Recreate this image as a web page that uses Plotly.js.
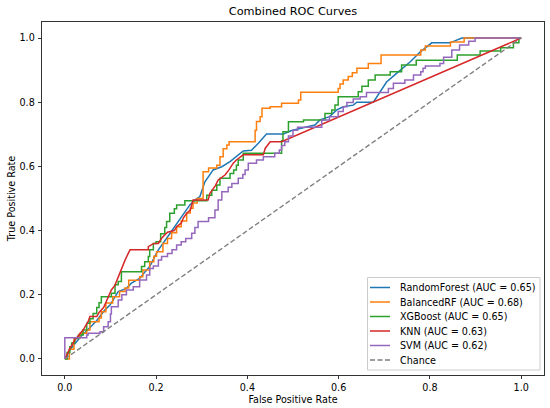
<!DOCTYPE html>
<html>
<head>
<meta charset="utf-8">
<script src="https://cdn.plot.ly/plotly-3.0.1.min.js"></script>
<style>html,body{margin:0;padding:0;background:#fff;}#chart{width:550px;height:408px;}</style>
</head>
<body>
<div id="chart"></div>
<script>
// ---- data ----
const modelNames = ["RandomForest", "BalancedRF", "XGBoost", "KNN", "SVM"];
const aucValues = [0.65, 0.68, 0.65, 0.63, 0.62];
const tickValues = [0, 0.2, 0.4, 0.6, 0.8, 1.0];
const tickLabels = ["0.0", "0.2", "0.4", "0.6", "0.8", "1.0"];

const rfFpr = [0, 0.005, 0.011, 0.02, 0.035, 0.05, 0.07, 0.088, 0.099, 0.117, 0.135, 0.146, 0.164, 0.175, 0.186, 0.197, 0.205, 0.225, 0.24, 0.252, 0.274, 0.285, 0.296, 0.307, 0.325, 0.344, 0.362, 0.391, 0.409, 0.424, 0.442, 0.479, 0.497, 0.52, 0.548, 0.559, 0.58, 0.596, 0.61, 0.632, 0.64, 0.676, 0.691, 0.705, 0.727, 0.757, 0.779, 0.804, 0.844, 0.859, 0.87, 1];
const rfTpr = [0, 0.01, 0.028, 0.045, 0.07, 0.09, 0.12, 0.153, 0.168, 0.21, 0.22, 0.236, 0.251, 0.27, 0.288, 0.319, 0.34, 0.38, 0.41, 0.438, 0.48, 0.495, 0.506, 0.552, 0.589, 0.599, 0.615, 0.648, 0.65, 0.672, 0.701, 0.701, 0.712, 0.72, 0.729, 0.745, 0.755, 0.776, 0.786, 0.791, 0.80, 0.80, 0.832, 0.863, 0.89, 0.926, 0.957, 0.985, 0.985, 0.994, 1, 1];

const brfFpr = [0, 0.01, 0.02, 0.033, 0.048, 0.055, 0.075, 0.08, 0.09, 0.105, 0.12, 0.132, 0.14, 0.164, 0.171, 0.186, 0.195, 0.201, 0.215, 0.225, 0.234, 0.245, 0.255, 0.267, 0.275, 0.281, 0.29, 0.303, 0.315, 0.333, 0.34, 0.347, 0.355, 0.36, 0.417, 0.42, 0.428, 0.432, 0.45, 0.475, 0.512, 0.517, 0.599, 0.603, 0.61, 0.621, 0.63, 0.64, 0.665, 0.693, 0.78, 0.79, 0.845, 0.875, 1];
const brfTpr = [0, 0.03, 0.065, 0.08, 0.09, 0.116, 0.128, 0.147, 0.174, 0.194, 0.21, 0.221, 0.245, 0.256, 0.277, 0.303, 0.32, 0.334, 0.36, 0.375, 0.393, 0.412, 0.43, 0.455, 0.47, 0.486, 0.5, 0.583, 0.595, 0.604, 0.63, 0.655, 0.667, 0.677, 0.713, 0.74, 0.755, 0.781, 0.786, 0.797, 0.807, 0.831, 0.843, 0.857, 0.869, 0.88, 0.892, 0.906, 0.921, 0.947, 0.963, 0.975, 0.988, 1, 1];

const xgbFpr = [0, 0.005, 0.011, 0.015, 0.022, 0.03, 0.04, 0.048, 0.055, 0.062, 0.07, 0.075, 0.08, 0.102, 0.11, 0.117, 0.124, 0.168, 0.175, 0.183, 0.186, 0.194, 0.2, 0.21, 0.219, 0.223, 0.23, 0.24, 0.245, 0.263, 0.311, 0.322, 0.333, 0.34, 0.362, 0.37, 0.376, 0.38, 0.391, 0.475, 0.478, 0.49, 0.523, 0.57, 0.585, 0.592, 0.599, 0.643, 0.651, 0.665, 0.68, 0.713, 0.738, 0.77, 0.86, 0.91, 0.955, 0.983, 0.995, 1];
const xgbTpr = [0, 0.02, 0.038, 0.05, 0.064, 0.075, 0.09, 0.111, 0.125, 0.142, 0.16, 0.175, 0.194, 0.205, 0.231, 0.241, 0.272, 0.288, 0.303, 0.319, 0.34, 0.36, 0.365, 0.39, 0.41, 0.428, 0.454, 0.468, 0.48, 0.493, 0.51, 0.526, 0.542, 0.563, 0.578, 0.589, 0.604, 0.62, 0.641, 0.68, 0.708, 0.739, 0.745, 0.765, 0.776, 0.791, 0.817, 0.833, 0.85, 0.869, 0.885, 0.895, 0.916, 0.931, 0.947, 0.96, 0.97, 0.985, 1, 1];

const knnFpr = [0, 0.01, 0.022, 0.033, 0.04, 0.051, 0.055, 0.07, 0.075, 0.085, 0.091, 0.102, 0.11, 0.117, 0.124, 0.132, 0.139, 0.143, 0.183, 0.183, 0.195, 0.205, 0.212, 0.225, 0.24, 0.245, 0.255, 0.26, 0.267, 0.275, 0.281, 0.314, 0.318, 0.33, 0.336, 0.351, 0.36, 0.369, 0.376, 0.384, 0.391, 0.435, 0.439, 0.45, 0.475, 1];
const knnTpr = [0, 0.03, 0.059, 0.08, 0.09, 0.116, 0.132, 0.132, 0.145, 0.16, 0.179, 0.215, 0.23, 0.256, 0.282, 0.308, 0.329, 0.34, 0.34, 0.35, 0.36, 0.36, 0.376, 0.395, 0.4, 0.412, 0.423, 0.44, 0.454, 0.464, 0.495, 0.495, 0.516, 0.54, 0.558, 0.573, 0.59, 0.61, 0.62, 0.63, 0.636, 0.636, 0.656, 0.677, 0.677, 1];

const svmFpr = [0, 0, 0.048, 0.051, 0.077, 0.085, 0.095, 0.1, 0.102, 0.117, 0.125, 0.135, 0.15, 0.164, 0.179, 0.186, 0.194, 0.205, 0.212, 0.225, 0.235, 0.245, 0.255, 0.265, 0.278, 0.285, 0.292, 0.315, 0.329, 0.336, 0.344, 0.358, 0.366, 0.38, 0.39, 0.395, 0.402, 0.42, 0.435, 0.46, 0.47, 0.475, 0.482, 0.49, 0.5, 0.51, 0.563, 0.58, 0.599, 0.61, 0.618, 0.632, 0.647, 0.661, 0.709, 0.72, 0.745, 0.764, 0.78, 0.785, 0.79, 0.822, 0.83, 0.848, 0.865, 0.885, 0.899, 1];
const svmTpr = [0, 0.066, 0.075, 0.08, 0.085, 0.1, 0.116, 0.14, 0.163, 0.184, 0.2, 0.215, 0.225, 0.246, 0.262, 0.282, 0.29, 0.308, 0.319, 0.329, 0.34, 0.355, 0.365, 0.375, 0.392, 0.41, 0.428, 0.44, 0.464, 0.495, 0.521, 0.535, 0.547, 0.563, 0.575, 0.589, 0.61, 0.62, 0.63, 0.641, 0.651, 0.665, 0.677, 0.695, 0.713, 0.722, 0.745, 0.755, 0.771, 0.786, 0.799, 0.81, 0.817, 0.83, 0.843, 0.859, 0.869, 0.885, 0.895, 0.906, 0.913, 0.921, 0.94, 0.963, 0.978, 0.99, 1, 1];

const chanceX = [0, 1];
const chanceY = [0, 1];

const colors = ["#1f77b4", "#ff7f0e", "#2ca02c", "#d62728", "#9467bd"];
const chanceColor = "#808080";
const fprs = [rfFpr, brfFpr, xgbFpr, knnFpr, svmFpr];
const tprs = [rfTpr, brfTpr, xgbTpr, knnTpr, svmTpr];
const shapesOfLine = ["linear", "hv", "hv", "linear", "hv"];

const FONT = "DejaVu Sans, Liberation Sans, sans-serif";
const DASH = "5px,2.5px";

const traces = modelNames.map((n, i) => ({
  x: fprs[i], y: tprs[i], type: "scatter", mode: "lines",
  name: n + " (AUC = " + aucValues[i].toFixed(2) + ")",
  line: {color: colors[i], width: 1.5, shape: shapesOfLine[i]},
  showlegend: false, hoverinfo: "skip"
}));
traces.push({
  x: chanceX, y: chanceY, type: "scatter", mode: "lines", name: "Chance",
  line: {color: chanceColor, width: 1.4, dash: DASH},
  showlegend: false, hoverinfo: "skip"
});

// ---- custom legend, matplotlib style ----
const legendLabels = traces.map(t => t.name);
const legendColors = colors.concat([chanceColor]);
const plotTop = 22, plotBottom = 375, plotLeft = 42, plotRight = 544;
const pH = plotBottom - plotTop, pW = plotRight - plotLeft;
const px2x = p => (p - plotLeft) / pW;
const py2y = p => (plotBottom - p) / pH;
const shapes = [{
  type: "rect", xref: "paper", yref: "paper",
  x0: px2x(367.5), x1: px2x(540), y0: py2y(370), y1: py2y(277.5),
  fillcolor: "rgba(255,255,255,0.85)", line: {color: "#cccccc", width: 1}, layer: "above"
}];
const annotations = [];
legendLabels.forEach((lab, i) => {
  const yy = py2y(287.5 + 14.5 * i);
  shapes.push({
    type: "line", xref: "paper", yref: "paper",
    x0: px2x(370), x1: px2x(390), y0: yy, y1: yy,
    line: {color: legendColors[i], width: 1.5, dash: i === 5 ? DASH : "solid"}, layer: "above"
  });
  annotations.push({
    xref: "paper", yref: "paper", x: px2x(398), y: yy, xanchor: "left", yanchor: "middle",
    text: lab, showarrow: false, font: {family: FONT, size: 9.6, color: "#000"}
  });
});

const axisCommon = {
  range: [-0.05, 1.05], tickvals: tickValues, ticktext: tickLabels,
  ticks: "outside", ticklen: 3.5, tickwidth: 0.8, tickcolor: "#000",
  showline: true, mirror: true, linecolor: "#000", linewidth: 0.8,
  showgrid: false, zeroline: false,
  tickfont: {family: FONT, size: 9.6, color: "#000"}
};

const layout = {
  width: 550, height: 408,
  margin: {l: plotLeft, r: 550 - plotRight, t: plotTop, b: 408 - plotBottom, pad: 0},
  paper_bgcolor: "#fff", plot_bgcolor: "#fff",
  font: {family: FONT, color: "#000"},
  title: {text: "Combined ROC Curves", font: {family: FONT, size: 11.3, color: "#000"},
          x: 0.5, xref: "paper", y: 1 - 11 / 408, yref: "container", yanchor: "middle"},
  xaxis: Object.assign({}, axisCommon, {title: {text: "False Positive Rate", font: {family: FONT, size: 9.6}, standoff: 4}}),
  yaxis: Object.assign({}, axisCommon, {ticklabelstandoff: 1, title: {text: "True Positive Rate", font: {family: FONT, size: 9.6}, standoff: 2}}),
  showlegend: false,
  shapes: shapes, annotations: annotations
};

Plotly.newPlot("chart", traces, layout, {staticPlot: true, displayModeBar: false});
</script>
</body>
</html>
